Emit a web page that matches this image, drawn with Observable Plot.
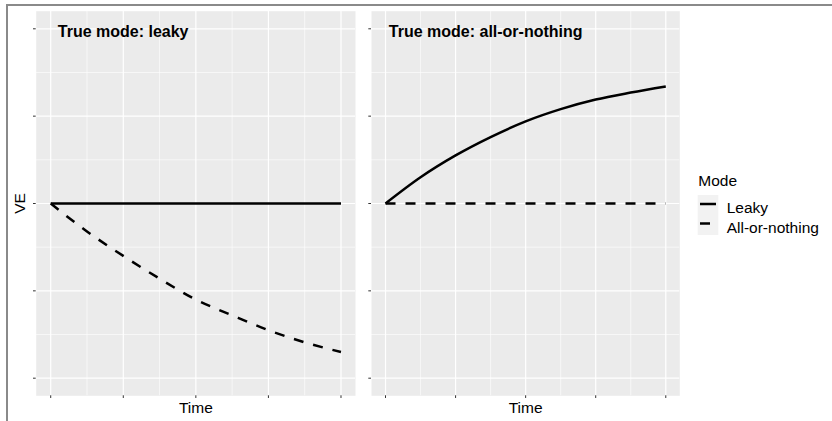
<!DOCTYPE html>
<html>
<head>
<meta charset="utf-8">
<script src="https://cdn.jsdelivr.net/npm/d3@7"></script>
<script src="https://cdn.jsdelivr.net/npm/@observablehq/plot@0.6"></script>
<style>
  html, body { margin: 0; padding: 0; background: #fff; }
  #wrap { position: relative; width: 832px; height: 421px; overflow: hidden; background: #fff;
          font-family: "Liberation Sans", Arial, Helvetica, sans-serif; }
  #frame { position: absolute; left: 6px; top: 4px; width: 840px; height: 430px;
           border-top: 2px solid #8a8a8a; border-left: 2px solid #8a8a8a; box-sizing: border-box; }
  .panel { position: absolute; top: 0; }
  #legend { position: absolute; left: 0; top: 0; }
</style>
</head>
<body>
<div id="wrap">
  <div id="frame"></div>
  <div id="left" class="panel" style="left:0px"></div>
  <div id="right" class="panel" style="left:360px"></div>
  <div id="legend"></div>
</div>
<script>
// ---- data ----
const time = [0, 1.25, 2.5, 3.75, 5, 6.25, 7.5, 8.75, 10];
const modes = ["Leaky", "All-or-nothing"];
const panelTitles = ["True mode: leaky", "True mode: all-or-nothing"];
// True mode: leaky
const leakyTrue_leaky = [0.600, 0.600, 0.600, 0.600, 0.600, 0.600, 0.600, 0.600, 0.600];
const leakyTrue_aon   = [0.600, 0.568, 0.540, 0.514, 0.490, 0.472, 0.455, 0.441, 0.430];
// True mode: all-or-nothing
const aonTrue_leaky   = [0.600, 0.630, 0.655, 0.676, 0.694, 0.708, 0.719, 0.727, 0.734];
const aonTrue_aon     = [0.600, 0.600, 0.600, 0.600, 0.600, 0.600, 0.600, 0.600, 0.600];
// axis ticks (labels are blank in the original)
const xTicks = [0, 2.5, 5, 7.5, 10];
const xMinor = [1.25, 3.75, 6.25, 8.75];
const yTicks = [0.4, 0.5, 0.6, 0.7, 0.8];
const yMinor = [0.45, 0.55, 0.65, 0.75];
const xLabel = "Time";
const yLabel = "VE";
const legendTitle = "Mode";

function rows(vals, mode) { return time.map((t, i) => ({time: t, ve: vals[i], mode})); }
const dash = {"Leaky": null, "All-or-nothing": "10,10"};

function panel({width, marginLeft, marginRight, title, titleDx, series, showY}) {
  const marks = [
    Plot.frame({fill: "#EBEBEB", stroke: null}),
    Plot.ruleX(xMinor, {stroke: "#fff", strokeWidth: 0.6}),
    Plot.ruleY(yMinor, {stroke: "#fff", strokeWidth: 0.6}),
    Plot.ruleX(xTicks, {stroke: "#fff", strokeWidth: 1.2}),
    Plot.ruleY(yTicks, {stroke: "#fff", strokeWidth: 1.2}),
    Plot.axisX({ticks: xTicks, tickFormat: () => "", label: null, tickSize: 2.7, stroke: "#333", strokeWidth: 1}),
    Plot.axisY({ticks: yTicks, tickFormat: () => "", label: null, tickSize: 2.7, stroke: "#333", strokeWidth: 1}),
    ...series.map(s => Plot.line(s, {x: "time", y: "ve", stroke: "#000", strokeWidth: 2.5, curve: "monotone-x",
      strokeDasharray: dash[s[0].mode], strokeLinecap: "butt", strokeLinejoin: "round"})),
    Plot.text([title], {frameAnchor: "top-left", dx: titleDx, dy: 14.6, lineAnchor: "top",
      fontWeight: "bold", fontSize: 16, fill: "#000"}),
    Plot.text([xLabel], {frameAnchor: "bottom", dy: 12.5, lineAnchor: "middle", fontSize: 15.5, fill: "#000"})
  ];
  if (showY) marks.push(Plot.text([yLabel], {frameAnchor: "left", dx: -16.5, rotate: -90,
      textAnchor: "middle", lineAnchor: "middle", fontSize: 15.5, fill: "#000"}));
  return Plot.plot({
    width, height: 421,
    marginLeft, marginRight, marginTop: 10.7, marginBottom: 25.7,
    x: {domain: [-0.5, 10.5]},
    y: {domain: [0.37985, 0.82015]},
    style: {background: "transparent", fontFamily: "'Liberation Sans', Arial, sans-serif", overflow: "visible"},
    marks
  });
}

document.getElementById("left").append(panel({
  width: 360, marginLeft: 35.7, marginRight: 5, title: panelTitles[0], titleDx: 21.6, showY: true,
  series: [rows(leakyTrue_aon, modes[1]), rows(leakyTrue_leaky, modes[0])]
}));
document.getElementById("right").append(panel({
  width: 330, marginLeft: 11, marginRight: 10.7, title: panelTitles[1], titleDx: 17.3, showY: false,
  series: [rows(aonTrue_aon, modes[1]), rows(aonTrue_leaky, modes[0])]
}));

// ---- legend ----
const lg = d3.select("#legend").append("svg").attr("width", 832).attr("height", 421)
  .style("font-family", "'Liberation Sans', Arial, sans-serif");
lg.append("text").attr("x", 698.3).attr("y", 186).attr("font-size", 15.5).attr("fill", "#000").text(legendTitle);
lg.append("rect").attr("x", 697.7).attr("y", 195).attr("width", 20.6).attr("height", 40).attr("fill", "#F2F2F2");
modes.forEach((m, i) => {
  const yc = 204 + i * 19.5;
  lg.append("line").attr("x1", 700).attr("x2", 716).attr("y1", yc).attr("y2", yc)
    .attr("stroke", "#000").attr("stroke-width", 2.5)
    .attr("stroke-dasharray", dash[m]).attr("stroke-linecap", "butt");
  lg.append("text").attr("x", 726.7).attr("y", yc + 9).attr("font-size", 15.5).attr("fill", "#000").text(m);
});
</script>
</body>
</html>
